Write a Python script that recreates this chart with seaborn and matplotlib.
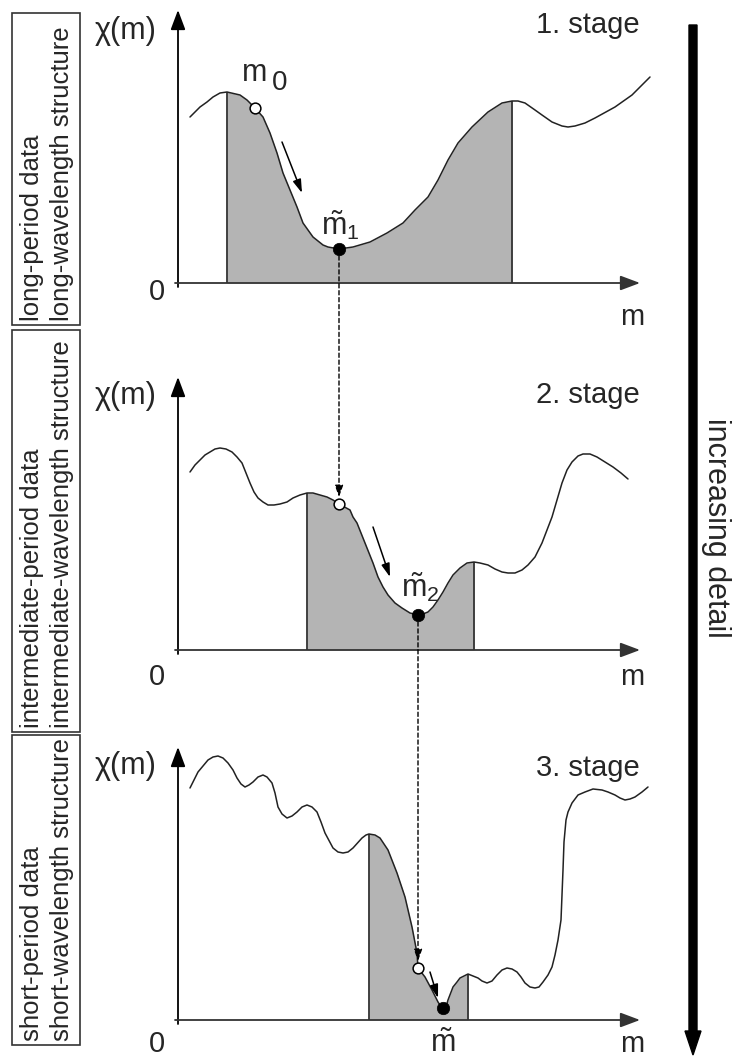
import numpy as np
import matplotlib
matplotlib.use("Agg")
import matplotlib.pyplot as plt
import seaborn as sns
from matplotlib.patches import Rectangle, ConnectionPatch

# misfit curves (m, chi(m)) for each stage
m1 = [12, 22, 29, 35, 42, 49, 62, 69, 77, 85, 92, 99, 105, 112, 119, 125, 135, 145, 150, 161,
      175, 192, 209, 225, 237, 250, 260, 270, 280, 294, 310, 324, 334, 340, 347, 357, 364, 374,
      384, 390, 397, 407, 417, 437, 454, 472]
chi1 = [166, 176, 181, 186, 190, 191, 188, 183, 175, 166, 150, 130, 110, 93, 76, 60, 46, 38, 36, 34,
        36, 41, 50, 60, 73, 86, 103, 123, 140, 156, 171, 180, 182, 182, 180, 173, 168, 161,
        157, 156, 157, 160, 165, 176, 188, 206]

m2 = [12, 17, 22, 27, 32, 37, 42, 48, 54, 59, 64, 68, 72, 76, 80, 85, 90, 96, 102, 109, 115, 122,
      129, 135, 142, 149, 155, 161, 172, 175, 179, 183, 187, 191, 195, 200, 205, 210, 217, 224, 232,
      240, 245, 250, 255, 260, 265, 270, 275, 282, 289, 296, 302, 310, 317, 324, 330, 337, 344, 350,
      357, 364, 369, 374, 379, 384, 389, 394, 400, 405, 412, 419, 427, 435, 443, 450]
chi2 = [178, 185, 190, 195, 198, 201, 202, 201, 198, 193, 187, 177, 167, 158, 152, 148, 145, 145, 146, 148, 152, 155,
        157, 157, 155, 153, 150, 146, 140, 133, 127, 117, 107, 97, 87, 73, 63, 55, 47, 42, 37,
        35, 36, 38, 43, 50, 58, 67, 75, 82, 87, 88, 87, 85, 81, 78, 77, 77, 80, 85,
        93, 107, 120, 133, 150, 167, 180, 188, 194, 196, 196, 193, 188, 183, 177, 171]

m3 = [12, 20, 30, 35, 40, 45, 50, 55, 59, 63, 67, 71, 75, 80, 85, 89, 94, 97, 100, 104, 109, 114,
      119, 124, 129, 134, 139, 143, 147, 155, 160, 165, 170, 175, 184, 188, 191, 197, 202, 210, 219,
      227, 234, 239, 240, 247, 254, 260, 262, 265, 268, 270, 275, 279, 282, 286, 290, 295, 300, 304,
      309, 314, 319, 324, 329, 334, 339, 343, 347, 352, 357, 361, 365, 370, 374, 377, 380, 383, 384,
      385, 386, 388, 390, 394, 400, 407, 415, 424, 430, 437, 442, 447, 452, 457, 464, 470]
chi3 = [232, 248, 260, 263, 264, 262, 257, 250, 242, 236, 233, 235, 238, 243, 245, 243, 237, 227, 213, 206, 202, 204,
        208, 213, 215, 213, 208, 198, 187, 172, 168, 167, 168, 172, 182, 185, 186, 185, 182, 170, 147,
        123, 93, 67, 52, 43, 30, 18, 15, 12, 13, 20, 33, 38, 42, 44, 46, 44, 42, 39,
        37, 39, 45, 50, 52, 51, 48, 43, 37, 33, 32, 33, 38, 45, 53, 65, 80, 100, 125,
        150, 178, 200, 208, 217, 225, 228, 231, 230, 228, 225, 222, 220, 221, 223, 228, 233]

# search window (shaded), start model and minimum of each stage
shade = [(49, 334), (129, 296), (191, 290)]
start_pts = [(77, 175), (161, 146), (240, 52)]
min_pts = [(161, 34), (240, 35), (265, 12)]
step_arrows = [((104, 141), (124, 90)), ((195, 123), (212, 73)), ((252, 48), (260, 22))]

stage_labels = ["1. stage", "2. stage", "3. stage"]
box_labels = ["long-period data\nlong-wavelength structure",
              "intermediate-period data\nintermediate-wavelength structure",
              "short-period data\nshort-wavelength structure"]

sns.set_style("white")
plt.rcParams["font.family"] = ["Liberation Sans", "DejaVu Sans"]
plt.rcParams["mathtext.fontset"] = "custom"
plt.rcParams["mathtext.rm"] = "Liberation Sans"
plt.rcParams["mathtext.it"] = "Liberation Sans"

W, H = 734, 1059
fig = plt.figure(figsize=(W / 100, H / 100), dpi=100)

# background axes in pixel units for the side boxes and the big arrow
bg = fig.add_axes([0, 0, 1, 1])
bg.set_xlim(0, W)
bg.set_ylim(H, 0)
bg.set_axis_off()

# panel layout: (top px, bottom px, baseline px)
panels = [(0, 330, 283), (330, 700, 650), (700, 1059, 1020)]
boxes = [(13, 325), (330, 732), (735, 1045)]
label_y = [dict(chi=252, zero=-17, m=-42, stage=258),
           dict(chi=254, zero=-35, m=-35, stage=255),
           dict(chi=254, zero=-32, m=-32, stage=252)]

curves = [(m1, chi1), (m2, chi2), (m3, chi3)]
axes = []
for i, (top, bot, base) in enumerate(panels):
    ax = fig.add_axes([150 / W, 1 - bot / H, 530 / W, (bot - top) / H])
    ax.set_xlim(150 - 178, 680 - 178)
    ax.set_ylim(base - bot, base - top)
    ax.set_axis_off()
    ax.patch.set_alpha(0)
    axes.append(ax)

    m = np.array(curves[i][0], dtype=float)
    chi = np.array(curves[i][1], dtype=float)
    lo, hi = shade[i]
    mask = (m >= lo) & (m <= hi)
    ax.fill_between(m[mask], chi[mask], 0, color="#b4b4b4", lw=0, zorder=1)
    ax.vlines([lo, hi], 0, np.interp([lo, hi], m, chi), color="#333333", lw=1.3, zorder=2)
    sns.lineplot(x=m, y=chi, ax=ax, color="#222222", linewidth=1.1,
                 estimator=None, sort=False, zorder=3)

    # coordinate axes with arrow heads
    ax.annotate("", xy=(0, 273), xytext=(0, -4),
                arrowprops=dict(arrowstyle="-|>,head_length=1.2,head_width=0.45",
                                lw=1.3, color="black", shrinkA=0, shrinkB=0), zorder=4)
    ax.annotate("", xy=(462, 0), xytext=(-3, 0),
                arrowprops=dict(arrowstyle="-|>,head_length=1.2,head_width=0.45",
                                lw=1.3, color="#333333", shrinkA=0, shrinkB=0), zorder=4)

    # step arrow
    (x0, y0), (x1, y1) = step_arrows[i]
    ax.annotate("", xy=(x1, y1), xytext=(x0, y0),
                arrowprops=dict(arrowstyle="-|>,head_length=0.8,head_width=0.25",
                                lw=1.1, color="black", shrinkA=0, shrinkB=0), zorder=4)

    sns.scatterplot(x=[start_pts[i][0]], y=[start_pts[i][1]], ax=ax, s=60,
                    color="white", edgecolor="black", linewidth=1.1, zorder=6)
    sns.scatterplot(x=[min_pts[i][0]], y=[min_pts[i][1]], ax=ax, s=80,
                    color="black", edgecolor="black", linewidth=0.5, zorder=6)

    ly = label_y[i]
    ax.text(-21, ly["chi"], "χ(m)", fontsize=22, ha="right", va="center")
    ax.text(-21, ly["zero"], "0", fontsize=21, ha="center", va="baseline")
    ax.text(454, ly["m"], "m", fontsize=21, ha="center", va="baseline")
    ax.text(462, ly["stage"], stage_labels[i], fontsize=21, ha="right", va="center")

    # side box with data description
    y_top, y_bot = boxes[i]
    bg.add_patch(Rectangle((12, y_top), 68, y_bot - y_top, fill=False,
                           edgecolor="#333333", lw=1.2))
    bg.text(47, y_bot - 4, box_labels[i], fontsize=18.5, rotation=90,
            rotation_mode="anchor", ha="left", va="center", multialignment="left",
            linespacing=1.35)

ax1, ax2, ax3 = axes
ax1.text(77, 210, "m", fontsize=22, ha="center", va="center")
ax1.text(102, 200, "0", fontsize=20, ha="center", va="center")
ax1.text(162, 58, r"$\tilde{m}_1$", fontsize=22, ha="center", va="center")
ax2.text(242, 63, r"$\tilde{m}_2$", fontsize=22, ha="center", va="center")
ax3.text(265, -32, r"$\tilde{m}$", fontsize=22, ha="center", va="baseline")

# dashed hand-over from one stage's minimum to the next stage's start
for axA, axB, pA, pB in [(ax1, ax2, min_pts[0], start_pts[1]),
                         (ax2, ax3, min_pts[1], start_pts[2])]:
    con = ConnectionPatch(xyA=pA, coordsA=axA.transData, xyB=pB, coordsB=axB.transData,
                          arrowstyle="-|>,head_length=0.7,head_width=0.25",
                          linestyle=(0, (3, 2)), lw=1.0, color="black",
                          shrinkA=0, shrinkB=5, mutation_scale=10, zorder=1)
    fig.add_artist(con)

# increasing detail arrow on the right
bg.arrow(693, 25, 0, 1030, width=8, head_width=16, head_length=24,
         length_includes_head=True, color="black")
bg.text(716, 528, "increasing detail", fontsize=22, rotation=-90, ha="center", va="center")

fig.savefig("out.png", dpi=100)
